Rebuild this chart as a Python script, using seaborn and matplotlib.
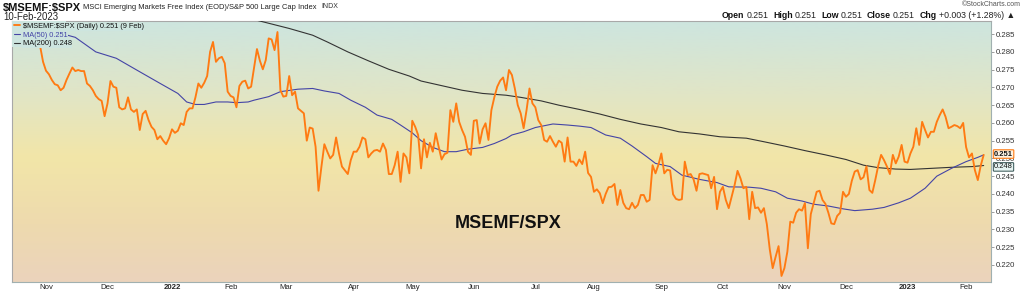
import numpy as np
import pandas as pd
import matplotlib
matplotlib.use("Agg")
import matplotlib.pyplot as plt
import seaborn as sns
from matplotlib.colors import LinearSegmentedColormap
from matplotlib.patches import Rectangle

# ---------------- data ----------------
first_session = "2021-10-15"
market_holidays = ["2021-11-25", "2021-12-24", "2022-01-17", "2022-02-21", "2022-04-15",
                   "2022-05-30", "2022-06-20", "2022-07-04", "2022-09-05", "2022-11-24",
                   "2022-12-26", "2023-01-02", "2023-01-16", "2023-02-20"]

symbol = "$MSEMF:$SPX"
title_desc = "MSCI Emerging Markets Free Index (EOD)/S&P 500 Large Cap Index"
exchange = "INDX"
chart_date = "10-Feb-2023"
center_label = "MSEMF/SPX"
credit = "\u00a9StockCharts.com"
header_items = [("Open", "0.251"), ("High", "0.251"), ("Low", "0.251"),
                ("Close", "0.251"), ("Chg", "+0.003 (+1.28%) \u25b2")]

# trading-session number (0 = 15 Oct 2021) for each daily close
price_session = [0, 2, 4, 6, 8] + list(range(9, 98)) + list(range(99, 113)) + \
    list(range(114, 236)) + list(range(237, 332))
price_values = [
    0.2842, 0.2852, 0.2838, 0.2855, 0.2840,
    0.2816, 0.2772, 0.2747, 0.2737, 0.2721, 0.2709, 0.2706, 0.2692, 0.2699, 0.2721,
    0.2739, 0.2756, 0.2746, 0.2749, 0.2746, 0.2746, 0.2711, 0.2704, 0.2692, 0.2676,
    0.2667, 0.2662, 0.2619, 0.2655, 0.2718, 0.2702, 0.2699, 0.2644, 0.2638, 0.2641,
    0.2672, 0.2638, 0.2631, 0.2638, 0.2580, 0.2625, 0.2634, 0.2608, 0.2589, 0.2580,
    0.2554, 0.2563, 0.2550, 0.2540, 0.2557, 0.2582, 0.2572, 0.2578, 0.2599, 0.2594,
    0.2631, 0.2641, 0.2641, 0.2672, 0.2711, 0.2699, 0.2713, 0.2732, 0.2800, 0.2828,
    0.2772, 0.2782, 0.2786, 0.2768, 0.2688, 0.2676, 0.2672, 0.2644, 0.2704, 0.2716,
    0.2719, 0.2697, 0.2702, 0.2756, 0.2808, 0.2775, 0.2751, 0.2777, 0.2838, 0.2835,
    0.2805, 0.2856, 0.2692, 0.2674, 0.2676, 0.2732, 0.2678, 0.2688, 0.2641,
    0.2627, 0.2550, 0.2587, 0.2584, 0.2533, 0.2409, 0.2477, 0.2540, 0.2519, 0.2500,
    0.2510, 0.2559, 0.2514, 0.2477,
    0.2456, 0.2495, 0.2519, 0.2519, 0.2533, 0.2559, 0.2554, 0.2503, 0.2514, 0.2522,
    0.2524, 0.2519, 0.2542, 0.2524, 0.2456, 0.2456, 0.2481, 0.2519, 0.2434, 0.2514,
    0.2503, 0.2458, 0.2606, 0.2589, 0.2566, 0.2472, 0.2554, 0.2503, 0.2544, 0.2519,
    0.2571, 0.2533, 0.2497, 0.2512, 0.2516, 0.2636, 0.2603, 0.2655, 0.2603, 0.2580,
    0.2561, 0.2519, 0.2510, 0.2606, 0.2608, 0.2542, 0.2582, 0.2599, 0.2552, 0.2636,
    0.2672, 0.2702, 0.2719, 0.2728, 0.2692, 0.2749, 0.2735, 0.2697, 0.2650, 0.2627,
    0.2585, 0.2636, 0.2697, 0.2655, 0.2644, 0.2608, 0.2594, 0.2552, 0.2547, 0.2563,
    0.2547, 0.2533, 0.2550, 0.2544, 0.2491, 0.2559, 0.2491, 0.2491, 0.2479, 0.2497,
    0.2484, 0.2519, 0.2459, 0.2448, 0.2406, 0.2413, 0.2402, 0.2374, 0.2400, 0.2419,
    0.2420, 0.2428, 0.2369, 0.2411, 0.2375, 0.2360, 0.2357, 0.2375, 0.2360, 0.2369,
    0.2397, 0.2397, 0.2378, 0.2383, 0.2481, 0.2458, 0.2482, 0.2514, 0.2458, 0.2468,
    0.2466, 0.2399, 0.2386, 0.2383, 0.2385, 0.2491, 0.2453, 0.2456, 0.2441, 0.2409,
    0.2456, 0.2458,
    0.2453, 0.2416, 0.2448, 0.2357, 0.2406, 0.2420, 0.2383, 0.2360, 0.2392, 0.2425,
    0.2465, 0.2444, 0.2416, 0.2420, 0.2329, 0.2406, 0.2360, 0.2362, 0.2347, 0.2360,
    0.2315, 0.2244, 0.2191, 0.2223, 0.2253, 0.2169, 0.2191, 0.2237, 0.2322, 0.2319,
    0.2347, 0.2357, 0.2353, 0.2374, 0.2247, 0.2343, 0.2375, 0.2406, 0.2409, 0.2383,
    0.2372, 0.2347, 0.2317, 0.2315, 0.2338, 0.2347, 0.2406, 0.2392, 0.2400, 0.2437,
    0.2463, 0.2467, 0.2441, 0.2447, 0.2478, 0.2411, 0.2403, 0.2439, 0.2479, 0.2510,
    0.2495, 0.2477, 0.2456, 0.2510, 0.2486, 0.2505, 0.2538, 0.2491, 0.2488, 0.2514,
    0.2533, 0.2585, 0.2538, 0.2603, 0.2580, 0.2559, 0.2575, 0.2575, 0.2603, 0.2622,
    0.2638, 0.2617, 0.2585, 0.2589, 0.2594, 0.2591, 0.2585, 0.2600, 0.2532, 0.2503,
    0.2514, 0.2467, 0.2439, 0.2480, 0.2510,
]

ma50_session = [0, 17, 21, 28, 35, 43, 50, 56, 59, 62, 65, 69, 73, 76, 80, 82, 87, 91, 97, 102,
                106, 111, 115, 120, 124, 129, 132, 136, 139, 143, 147, 151, 155, 160, 164, 168,
                170, 174, 178, 184, 189, 193, 197, 202, 207, 211, 216, 219, 224, 228, 234, 240,
                244, 251, 255, 260, 264, 269, 273, 278, 283, 287, 293, 297, 302, 306, 311, 315,
                320, 325, 329, 331]
ma50_values = [0.2862, 0.2850, 0.2841, 0.2800, 0.2782, 0.2744, 0.2711, 0.2683, 0.2659, 0.2652,
               0.2652, 0.2659, 0.2659, 0.2657, 0.2659, 0.2664, 0.2674, 0.2688, 0.2695, 0.2697,
               0.2690, 0.2683, 0.2664, 0.2644, 0.2622, 0.2610, 0.2594, 0.2572, 0.2550, 0.2531,
               0.2519, 0.2519, 0.2526, 0.2531, 0.2542, 0.2556, 0.2566, 0.2575, 0.2587, 0.2597,
               0.2594, 0.2591, 0.2587, 0.2566, 0.2557, 0.2535, 0.2505, 0.2486, 0.2477, 0.2453,
               0.2441, 0.2432, 0.2420, 0.2419, 0.2416, 0.2406, 0.2388, 0.2380, 0.2371, 0.2366,
               0.2358, 0.2353, 0.2357, 0.2362, 0.2375, 0.2388, 0.2416, 0.2450, 0.2472, 0.2491,
               0.2503, 0.2510]

ma200_session = [60, 83, 94, 102, 107, 114, 121, 128, 135, 139, 146, 153, 160, 168, 173, 180,
                 186, 193, 200, 207, 214, 221, 227, 234, 241, 250, 256, 263, 270, 277, 284, 290,
                 295, 301, 306, 313, 320, 327, 331]
ma200_values = [0.2935, 0.2889, 0.2866, 0.2847, 0.2828, 0.2800, 0.2775, 0.2751, 0.2732, 0.2718,
                0.2705, 0.2692, 0.2683, 0.2678, 0.2672, 0.2662, 0.2650, 0.2638, 0.2625, 0.2610,
                0.2597, 0.2587, 0.2575, 0.2569, 0.2561, 0.2557, 0.2547, 0.2535, 0.2522, 0.2510,
                0.2497, 0.2481, 0.2474, 0.2470, 0.2469, 0.2472, 0.2475, 0.2477, 0.2480]

y_ticks = [0.220, 0.225, 0.230, 0.235, 0.240, 0.245, 0.250, 0.255, 0.260, 0.265, 0.270,
           0.275, 0.280, 0.285]

# ---------------- style ----------------
sns.set_style("white")
plt.rcParams["font.family"] = ["Liberation Sans", "DejaVu Sans"]
plt.rcParams["text.parse_math"] = False

PRICE_C = "#ff7a12"
MA50_C = "#4444a6"
MA200_C = "#333333"
TOP_C = "#cde5df"

# trading calendar
cal = pd.bdate_range(first_session, "2023-03-31")
cal = cal[~cal.isin(pd.to_datetime(market_holidays))]

W, H = 1024, 293
fig = plt.figure(figsize=(W / 100, H / 100), dpi=100)
L, R, T, B = 12, 991, 21, 282
ax = fig.add_axes([L / W, 1 - B / H, (R - L) / W, (B - T) / H])

# gradient background
cmap = LinearSegmentedColormap.from_list(
    "bg", [(0.0, "#ebd3bc"), (0.22, "#eedaae"), (0.48, "#f2e6a8"),
           (0.72, "#e1e5c6"), (1.0, TOP_C)])
grad = np.linspace(0, 1, 256).reshape(-1, 1)
ax.imshow(grad, cmap=cmap, origin="lower", extent=(0, 1, 0, 1),
          transform=ax.transAxes, aspect="auto", zorder=0, interpolation="bilinear")

df_price = pd.DataFrame({"session": price_session, "value": price_values})
df_ma50 = pd.DataFrame({"session": ma50_session, "value": ma50_values})
df_ma200 = pd.DataFrame({"session": ma200_session, "value": ma200_values})

last_date = cal[price_session[-1]]
lab_price = f"{symbol} (Daily) {price_values[-1]:.3f} ({last_date.day} {last_date.strftime('%b')})"
lab_ma50 = f"MA(50) {ma50_values[-1]:.3f}"
lab_ma200 = f"MA(200) {ma200_values[-1]:.3f}"

sns.lineplot(data=df_ma200, x="session", y="value", ax=ax, color=MA200_C, lw=0.8,
             label=lab_ma200, zorder=3)
sns.lineplot(data=df_ma50, x="session", y="value", ax=ax, color=MA50_C, lw=0.8,
             label=lab_ma50, zorder=3)
sns.lineplot(data=df_price, x="session", y="value", ax=ax, color=PRICE_C, lw=1.35,
             label=lab_price, zorder=4)

ax.set_xlim(-0.6, 333.5)
ax.set_ylim(0.2152, 0.2887)
ax.set_xlabel("")
ax.set_ylabel("")

# background block behind the legend keys (covers lines like the reference)
ax.add_patch(Rectangle((0, 1 - 26 / (B - T)), 54 / (R - L), 26 / (B - T),
                       transform=ax.transAxes, fc=TOP_C, ec="none", zorder=5))

# legend (order: price, MA50, MA200)
handles, labels = ax.get_legend_handles_labels()
order = [labels.index(lab_price), labels.index(lab_ma50), labels.index(lab_ma200)]
leg = ax.legend([handles[i] for i in order], [labels[i] for i in order],
                loc="upper left", bbox_to_anchor=(0.0, 1.0), fontsize=5.3,
                handlelength=0.9, handletextpad=0.3, labelspacing=0.2,
                borderpad=0.25, borderaxespad=0.0, frameon=False)
leg.set_zorder(6)
for txt, c in zip(leg.get_texts(), ["#111111", MA50_C, "#111111"]):
    txt.set_color(c)
    txt.set_bbox(dict(fc=TOP_C, ec="none", pad=0.6))

# x ticks: first session of each month
month_pos, month_lab, month_bold = [], [], []
for m in pd.period_range("2021-11", "2023-02", freq="M"):
    idx = np.searchsorted(cal.values, np.datetime64(m.start_time))
    month_pos.append(idx)
    if m.month == 1:
        month_lab.append(str(m.year))
        month_bold.append(True)
    else:
        month_lab.append(m.start_time.strftime("%b"))
        month_bold.append(False)
ax.set_xticks(month_pos)
ax.set_xticklabels(month_lab)
for t, b in zip(ax.get_xticklabels(), month_bold):
    if b:
        t.set_fontweight("bold")
ax.tick_params(axis="x", length=0, pad=1.2, labelsize=5.6, labelcolor="#222222")

# y ticks on right
ax.yaxis.tick_right()
ax.set_yticks(y_ticks)
ax.set_yticklabels([f"{v:.3f}" for v in y_ticks])
ax.tick_params(axis="y", length=2, width=0.5, color="#777777", pad=1.2,
               labelsize=5.6, labelcolor="#333333")

# spines
for s in ["left", "top"]:
    ax.spines[s].set_color("#a8a8a8")
    ax.spines[s].set_linewidth(0.8)
for s in ["right", "bottom"]:
    ax.spines[s].set_color("#a0b0b0")
    ax.spines[s].set_linewidth(0.8)
    ax.spines[s].set_linestyle((0, (1, 1)))

# last-value tags
ax.annotate(f"{ma200_values[-1]:.3f}", xy=(1, ma200_values[-1]),
            xycoords=("axes fraction", "data"), xytext=(2.2, -1.0), textcoords="offset points",
            va="center", ha="left", fontsize=5.4, color="#111111",
            bbox=dict(boxstyle="round,pad=0.1", fc="#e6f3f1", ec="#2f4f4f", lw=0.7),
            annotation_clip=False, zorder=7)
ax.annotate(f"{price_values[-1]:.3f}", xy=(1, price_values[-1]),
            xycoords=("axes fraction", "data"), xytext=(2.2, 0.6), textcoords="offset points",
            va="center", ha="left", fontsize=5.4, fontweight="bold", color="#111111",
            bbox=dict(boxstyle="round,pad=0.1", fc="#fdf3e3", ec=PRICE_C, lw=0.8),
            annotation_clip=False, zorder=8)

# centre label
fig.text(508 / W, 1 - 223 / H, center_label, ha="center", va="center",
         fontsize=13, fontweight="bold", color="#111111")

# header
fig.canvas.draw()
renderer = fig.canvas.get_renderer()
t1 = fig.text(3 / W, 1 - 7.5 / H, symbol, fontsize=8, fontweight="bold",
              va="center", ha="left", color="#111111")
bb = t1.get_window_extent(renderer)
t2 = fig.text(bb.x1 / W + 2 / W, 1 - 7.5 / H, title_desc, fontsize=5.4,
              va="center", ha="left", color="#222222")
bb2 = t2.get_window_extent(renderer)
fig.text(bb2.x1 / W + 5 / W, 1 - 7 / H, exchange, fontsize=5.0,
         va="center", ha="left", color="#333333")
fig.text(3 / W, 1 - 16.5 / H, chart_date, fontsize=6.9, va="center", ha="left",
         color="#222222")
fig.text(1021 / W, 1 - 5 / H, credit, fontsize=5.0, va="center", ha="right",
         color="#555555")

x = 722
for lab, val in header_items:
    ta = fig.text(x / W, 1 - 15 / H, lab, fontsize=6.3, fontweight="bold",
                  va="center", ha="left", color="#111111")
    x = ta.get_window_extent(renderer).x1 + 2
    tb = fig.text(x / W, 1 - 15 / H, val, fontsize=6.3, va="center", ha="left",
                  color="#222222")
    x = tb.get_window_extent(renderer).x1 + 4.5

fig.savefig("out.png", dpi=100)
